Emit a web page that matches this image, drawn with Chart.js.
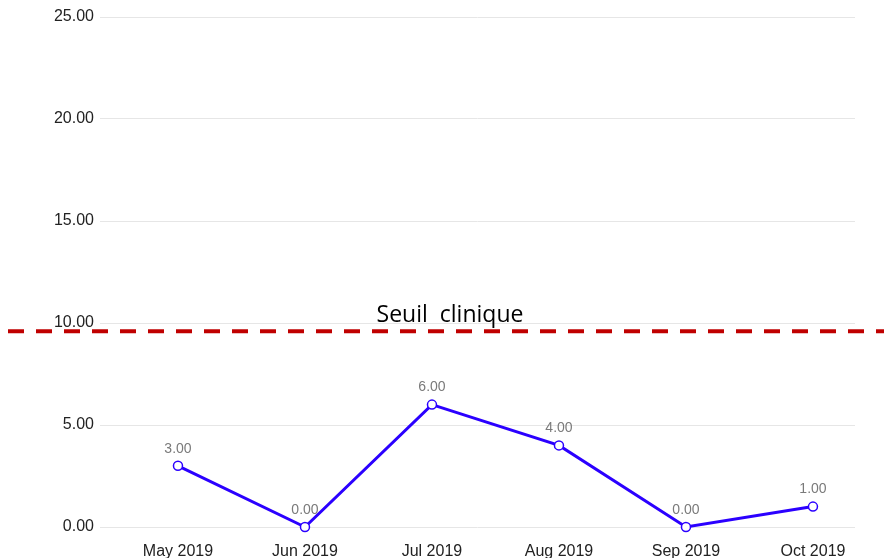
<!DOCTYPE html>
<html>
<head>
<meta charset="utf-8">
<style>
  html, body { margin: 0; padding: 0; background: #fff; }
  #wrap { width: 884px; height: 558px; position: relative; }
</style>
<script src="https://cdn.jsdelivr.net/npm/chart.js@4"></script>
</head>
<body>
<div id="wrap"><canvas id="chart"></canvas></div>
<script>
const monthLabels = ["May 2019", "Jun 2019", "Jul 2019", "Aug 2019", "Sep 2019", "Oct 2019"];
const scoreValues = [3, 0, 6, 4, 0, 1];
const yTicks = [0, 5, 10, 15, 20, 25];
const thresholdValue = 9.6;
const thresholdLabel = "Seuil  clinique";

// value labels above each point
const pointLabels = {
    id: 'pointLabels',
    afterDatasetsDraw(chart) {
        const ctx = chart.ctx;
        const meta = chart.getDatasetMeta(0);
        ctx.save();
        ctx.font = '14px "Liberation Sans", Arial, sans-serif';
        ctx.fillStyle = '#7a7a7a';
        ctx.textAlign = 'center';
        ctx.textBaseline = 'middle';
        meta.data.forEach((pt, i) => {
            ctx.fillText(scoreValues[i].toFixed(2), pt.x, pt.y - 17);
        });
        ctx.restore();
    }
};

// dashed clinical threshold across the whole canvas
const thresholdLine = {
    id: 'thresholdLine',
    afterDraw(chart) {
        const ctx = chart.ctx;
        const y = chart.scales.y.getPixelForValue(thresholdValue);
        ctx.save();
        ctx.strokeStyle = '#c00000';
        ctx.lineWidth = 4;
        ctx.setLineDash([16, 12]);
        ctx.beginPath();
        ctx.moveTo(8, y);
        ctx.lineTo(chart.width, y);
        ctx.stroke();
        ctx.setLineDash([]);
        ctx.font = '23px "Open Sans", "Noto Sans", sans-serif';
        ctx.fillStyle = '#000';
        ctx.textAlign = 'center';
        ctx.textBaseline = 'alphabetic';
        ctx.fillText(thresholdLabel, 450, y - 9);
        ctx.restore();
    }
};

new Chart(document.getElementById('chart'), {
    type: 'line',
    data: {
        datasets: [{
            data: scoreValues.map((v, i) => ({ x: i, y: v })),
            borderColor: '#2b00ff',
            borderWidth: 3,
            pointRadius: 4.5,
            pointBackgroundColor: '#fff',
            pointBorderColor: '#2b00ff',
            pointBorderWidth: 1.5,
            tension: 0,
            clip: false
        }]
    },
    options: {
        responsive: true,
        maintainAspectRatio: false,
        animation: false,
        layout: { padding: { top: 17, right: 29, left: 0, bottom: 0 } },
        plugins: { legend: { display: false }, tooltip: { enabled: false } },
        scales: {
            x: {
                type: 'linear',
                min: -0.614,
                max: 5.331,
                afterBuildTicks: (scale) => {
                    scale.ticks = monthLabels.map((_, i) => ({ value: i }));
                },
                afterFit: (scale) => { scale.height = 31; },
                grid: { display: false },
                border: { display: false },
                ticks: {
                    callback: (v) => monthLabels[v],
                    color: '#222',
                    font: { family: '"Liberation Sans", Arial, sans-serif', size: 16 },
                    padding: 7,
                    maxRotation: 0
                }
            },
            y: {
                min: 0,
                max: 25,
                afterBuildTicks: (scale) => {
                    scale.ticks = yTicks.map(v => ({ value: v }));
                },
                afterFit: (scale) => { scale.width = 100; },
                grid: { color: '#e6e6e6', drawTicks: false },
                border: { display: false },
                ticks: {
                    callback: (v) => v.toFixed(2),
                    color: '#222',
                    font: { family: '"Liberation Sans", Arial, sans-serif', size: 16 },
                    padding: 6
                }
            }
        }
    },
    plugins: [pointLabels, thresholdLine]
});
</script>
</body>
</html>
